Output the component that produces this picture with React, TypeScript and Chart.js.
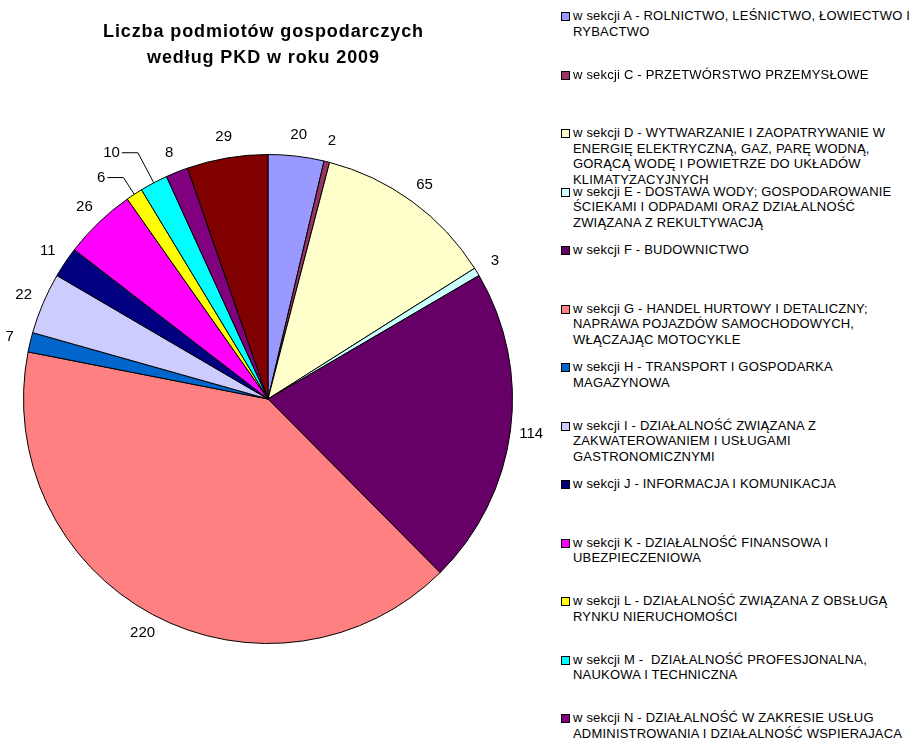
import React, { useEffect, useRef } from "react";
import { Chart, registerables } from "chart.js";

Chart.register(...registerables);

const TITLE_LINES = ["Liczba podmiotów gospodarczych", "według PKD w roku 2009"];

const CATEGORIES = [
  "w sekcji A - ROLNICTWO, LEŚNICTWO, ŁOWIECTWO I RYBACTWO",
  "w sekcji C - PRZETWÓRSTWO PRZEMYSŁOWE",
  "w sekcji D - WYTWARZANIE I ZAOPATRYWANIE W ENERGIĘ ELEKTRYCZNĄ, GAZ, PARĘ WODNĄ, GORĄCĄ WODĘ I POWIETRZE DO UKŁADÓW KLIMATYZACYJNYCH",
  "w sekcji E - DOSTAWA WODY; GOSPODAROWANIE ŚCIEKAMI I ODPADAMI ORAZ DZIAŁALNOŚĆ ZWIĄZANA Z REKULTYWACJĄ",
  "w sekcji F - BUDOWNICTWO",
  "w sekcji G - HANDEL HURTOWY I DETALICZNY; NAPRAWA POJAZDÓW SAMOCHODOWYCH, WŁĄCZAJĄC MOTOCYKLE",
  "w sekcji H - TRANSPORT I GOSPODARKA MAGAZYNOWA",
  "w sekcji I - DZIAŁALNOŚĆ ZWIĄZANA Z ZAKWATEROWANIEM I USŁUGAMI GASTRONOMICZNYMI",
  "w sekcji J - INFORMACJA I KOMUNIKACJA",
  "w sekcji K - DZIAŁALNOŚĆ FINANSOWA I UBEZPIECZENIOWA",
  "w sekcji L - DZIAŁALNOŚĆ ZWIĄZANA Z OBSŁUGĄ RYNKU NIERUCHOMOŚCI",
  "w sekcji M -  DZIAŁALNOŚĆ PROFESJONALNA, NAUKOWA I TECHNICZNA",
  "w sekcji N - DZIAŁALNOŚĆ W ZAKRESIE USŁUG ADMINISTROWANIA I DZIAŁALNOŚĆ WSPIERAJACA",
  "w pozostałych sekcjach",
];

const VALUES = [20, 2, 65, 3, 114, 220, 7, 22, 11, 26, 6, 10, 8, 29];

const COLORS = [
  "#9999FF",
  "#993366",
  "#FFFFCC",
  "#CCFFFF",
  "#660066",
  "#FF8080",
  "#0066CC",
  "#CCCCFF",
  "#000080",
  "#FF00FF",
  "#FFFF00",
  "#00FFFF",
  "#800080",
  "#800000",
];

// extra radial length of a leader line (0 = plain label without leader)
const LEADER = [0, 0, 0, 0, 0, 0, 0, 0, 0, 0, 20, 34, 0, 0];

const FONT = '"Liberation Sans", Arial, Helvetica, sans-serif';

const outLabels = {
  id: "outLabels",
  afterDatasetsDraw(chart: any) {
    const ctx = chart.ctx;
    const meta = chart.getDatasetMeta(0);
    const ds = chart.data.datasets[0];
    ctx.save();
    ctx.font = `15px ${FONT}`;
    ctx.fillStyle = "#000";
    ctx.strokeStyle = "#000";
    ctx.lineWidth = 1;
    ctx.textBaseline = "middle";
    meta.data.forEach((arc: any, i: number) => {
      const { x, y, startAngle, endAngle, outerRadius } = arc.getProps(
        ["x", "y", "startAngle", "endAngle", "outerRadius"],
        true
      );
      const mid = (startAngle + endAngle) / 2;
      const txt = String(ds.data[i]);
      const lead = LEADER[i];
      if (lead) {
        const ex = x + outerRadius * Math.cos(mid);
        const ey = y + outerRadius * Math.sin(mid);
        const r2 = outerRadius + lead;
        const bx = x + r2 * Math.cos(mid);
        const by = y + r2 * Math.sin(mid);
        ctx.beginPath();
        ctx.moveTo(ex, ey);
        ctx.lineTo(bx, by);
        ctx.lineTo(bx - 16, by);
        ctx.stroke();
        ctx.textAlign = "right";
        ctx.fillText(txt, bx - 18, by);
      } else {
        const r2 = outerRadius + 21;
        ctx.textAlign = "center";
        ctx.fillText(txt, x + r2 * Math.cos(mid), y + r2 * Math.sin(mid));
      }
    });
    ctx.restore();
  },
};

export default function App() {
  const ref = useRef<HTMLCanvasElement | null>(null);

  useEffect(() => {
    if (!ref.current) return;
    const chart = new Chart(ref.current, {
      type: "pie",
      data: {
        labels: CATEGORIES,
        datasets: [
          {
            data: VALUES,
            backgroundColor: COLORS,
            borderColor: "#000",
            borderWidth: 1,
            hoverBorderWidth: 1,
            hoverOffset: 0,
          },
        ],
      },
      options: {
        responsive: false,
        animation: false,
        events: [],
        layout: { padding: { left: 23, top: 154, right: 47, bottom: 96 } },
        plugins: {
          legend: { display: false },
          title: { display: false },
          tooltip: { enabled: false },
        },
      },
      plugins: [outLabels],
    });
    return () => chart.destroy();
  }, []);

  return (
    <div
      style={{
        position: "absolute",
        left: 0,
        top: 0,
        width: 914,
        height: 740,
        overflow: "hidden",
        background: "#fff",
        fontFamily: FONT,
      }}
    >
      <canvas
        ref={ref}
        width={560}
        height={740}
        style={{ position: "absolute", left: 0, top: 0, width: 560, height: 740 }}
      />
      <div
        style={{
          position: "absolute",
          left: 0,
          top: 18,
          width: 527,
          textAlign: "center",
          fontWeight: "bold",
          fontSize: 18,
          lineHeight: "26px",
          letterSpacing: 0.9,
          color: "#000",
        }}
      >
        {TITLE_LINES.map((t, i) => (
          <div key={i}>{t}</div>
        ))}
      </div>
      {CATEGORIES.map((c, i) => (
        <div
          key={i}
          style={{
            position: "absolute",
            left: 561,
            top: 8 + i * 58.5,
            width: 357,
          }}
        >
          <div
            style={{
              position: "absolute",
              left: 0,
              top: 4,
              width: 7,
              height: 7,
              border: "1px solid #000",
              background: COLORS[i],
            }}
          />
          <div
            style={{
              marginLeft: 12,
              fontSize: 13,
              lineHeight: "15.5px",
              letterSpacing: 0.2,
              whiteSpace: "pre-wrap",
              color: "#000",
            }}
          >
            {c}
          </div>
        </div>
      ))}
    </div>
  );
}
